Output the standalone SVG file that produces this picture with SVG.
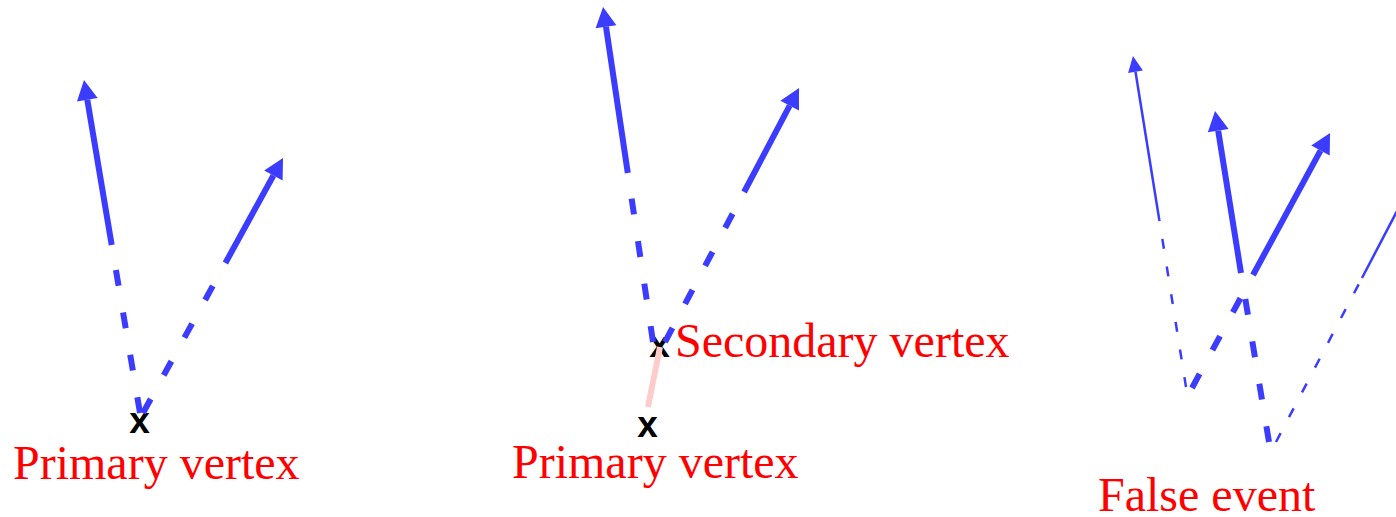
<svg xmlns="http://www.w3.org/2000/svg" width="1396" height="517" viewBox="0 0 1396 517">
<style>
.lbl{font-family:"Liberation Serif","Times New Roman",serif;font-size:48px;fill:#ff0000}
.vx{font-family:"Liberation Sans",Arial,sans-serif;font-weight:bold;font-size:37px;fill:#000000;text-anchor:middle}
.tk{stroke:#3c3cff;stroke-width:6;fill:none}
.tkd{stroke:#3c3cff;stroke-width:6;fill:none;stroke-dasharray:16 27}
.tn{stroke:#3c3cff;stroke-width:2.5;fill:none}
.tnd{stroke:#3c3cff;stroke-width:2.5;fill:none;stroke-dasharray:10 18}
.link{stroke:#ffcccc;stroke-width:6;fill:none}
</style>
<defs>
<marker id="ah" markerUnits="userSpaceOnUse" markerWidth="20" markerHeight="21" refX="0" refY="10.5" orient="auto" overflow="visible">
<path d="M0,0 L20,10.5 L0,21 Z" fill="#3c3cff"/>
</marker>
<marker id="ahs" markerUnits="userSpaceOnUse" markerWidth="16" markerHeight="15" refX="0" refY="7.5" orient="auto" overflow="visible">
<path d="M0,0 L16,7.5 L0,15 Z" fill="#3c3cff"/>
</marker>
</defs>
<rect width="1396" height="517" fill="#ffffff"/>

<g id="primary-vertex-1">
<text class="vx" x="139.5" y="433">x</text>
<text class="lbl" x="13" y="479">Primary vertex</text>
</g>

<g id="primary-vertex-2">
<text class="vx" x="647.5" y="437">x</text>
<text class="lbl" x="512" y="478">Primary vertex</text>
</g>

<g id="secondary-vertex">
<text class="vx" x="659.5" y="357">x</text>
<text class="lbl" x="675" y="357">Secondary vertex</text>
</g>

<g id="false-event">
<text class="lbl" x="1098" y="511">False event</text>
</g>

<g id="connectors">
<line class="link" x1="660" y1="347" x2="648" y2="407"/>

<line class="tkd" x1="140" y1="413" x2="111.7" y2="245"/>
<line class="tk" x1="111.7" y1="245" x2="87.3" y2="99.7" marker-end="url(#ah)"/>
<line class="tkd" x1="143" y1="413" x2="225.4" y2="263"/>
<line class="tk" x1="225.4" y1="263" x2="273.4" y2="175.5" marker-end="url(#ah)"/>

<line class="tkd" x1="653" y1="342" x2="627.8" y2="173"/>
<line class="tk" x1="627.8" y1="173" x2="606" y2="26.8" marker-end="url(#ah)"/>
<line class="tkd" x1="665" y1="342" x2="744.1" y2="192"/>
<line class="tk" x1="744.1" y1="192" x2="789.7" y2="105.7" marker-end="url(#ah)"/>

<line class="tkd" x1="1269" y1="442" x2="1241" y2="273"/>
<line class="tk" x1="1241" y1="273" x2="1218.2" y2="130.7" marker-end="url(#ah)"/>
<line class="tkd" x1="1192" y1="388" x2="1253" y2="275"/>
<line class="tk" x1="1253" y1="275" x2="1320.5" y2="150.6" marker-end="url(#ah)"/>

<line class="tnd" x1="1186" y1="387" x2="1159.3" y2="220"/>
<line class="tn" x1="1159.3" y1="220" x2="1135.5" y2="71.8" marker-end="url(#ahs)"/>
<line class="tnd" x1="1276" y1="442" x2="1362" y2="278"/>
<line class="tn" x1="1362" y1="278" x2="1403.2" y2="199.3" marker-end="url(#ahs)"/>
</g>
</svg>
